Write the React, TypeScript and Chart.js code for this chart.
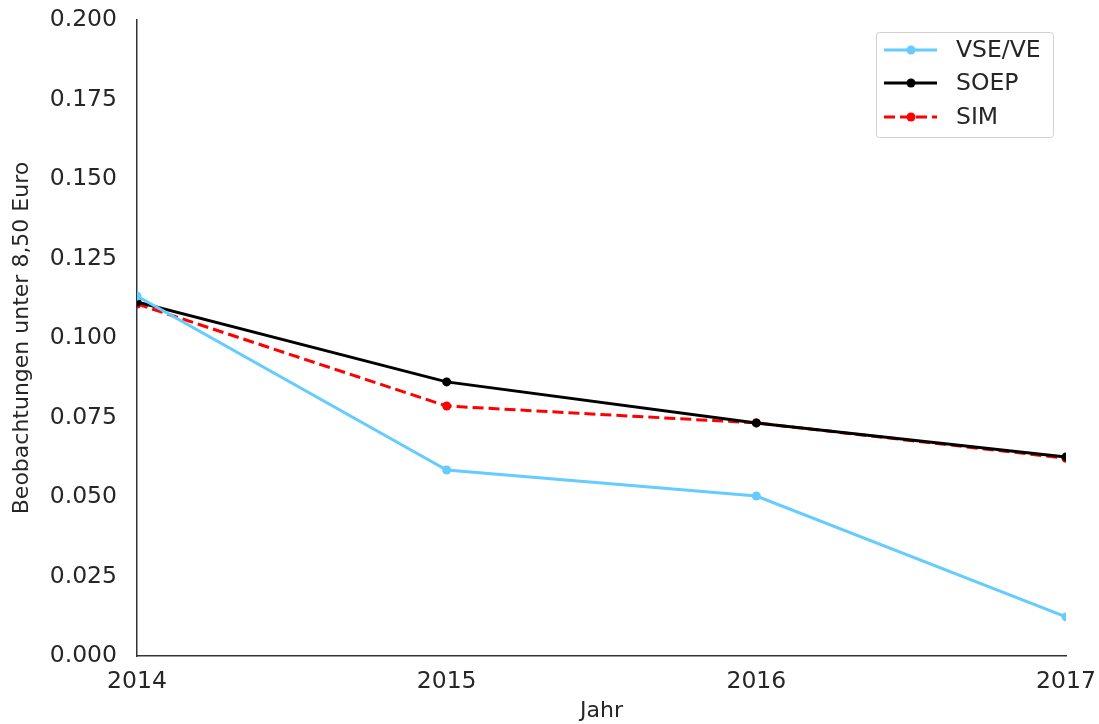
import React, { useEffect, useRef } from "react";
import { Chart, registerables } from "chart.js";

Chart.register(...registerables);

const years = ["2014", "2015", "2016", "2017"];
const vseVe = [0.1132, 0.0585, 0.0503, 0.0123];
const soep = [0.1113, 0.0862, 0.0733, 0.0626];
const sim = [0.1107, 0.0786, 0.0733, 0.0622];
const yTicks = [0, 0.025, 0.05, 0.075, 0.1, 0.125, 0.15, 0.175, 0.2];

const FONT = "'DejaVu Sans', sans-serif";
const TEXT = "#262626";

const legendPlugin = {
  id: "customLegend",
  afterDraw(chart: any) {
    const ctx = chart.ctx;
    const x0 = 876, y0 = 32, w = 177, h = 105;
    ctx.save();
    ctx.fillStyle = "rgba(255,255,255,0.8)";
    ctx.strokeStyle = "#d0d0d0";
    ctx.lineWidth = 1;
    ctx.beginPath();
    if (ctx.roundRect) ctx.roundRect(x0 + 0.5, y0 + 0.5, w, h, 3);
    else ctx.rect(x0 + 0.5, y0 + 0.5, w, h);
    ctx.fill();
    ctx.stroke();
    const rows = [50, 83, 117];
    chart.data.datasets.forEach((ds: any, i: number) => {
      const y = rows[i];
      ctx.strokeStyle = ds.borderColor;
      ctx.lineWidth = 3;
      ctx.setLineDash(ds.borderDash || []);
      ctx.beginPath();
      ctx.moveTo(884, y);
      ctx.lineTo(937, y);
      ctx.stroke();
      ctx.setLineDash([]);
      ctx.fillStyle = ds.borderColor;
      ctx.beginPath();
      ctx.arc(911, y, 4.5, 0, Math.PI * 2);
      ctx.fill();
      ctx.fillStyle = TEXT;
      ctx.font = `23.5px ${FONT}`;
      ctx.textBaseline = "middle";
      ctx.textAlign = "left";
      ctx.fillText(ds.label, 956, y + 1);
    });
    ctx.restore();
  },
};

export default function App() {
  const ref = useRef<HTMLCanvasElement>(null);
  useEffect(() => {
    if (!ref.current) return;
    const common = {
      borderWidth: 3,
      pointRadius: 4.5,
      pointHoverRadius: 4.5,
      pointBorderWidth: 0,
      tension: 0,
      clip: 0,
    };
    const chart = new Chart(ref.current, {
      type: "line",
      data: {
        labels: years,
        datasets: [
          { label: "VSE/VE", data: vseVe, borderColor: "#66ccff", backgroundColor: "#66ccff", ...common },
          { label: "SOEP", data: soep, borderColor: "#000000", backgroundColor: "#000000", ...common },
          {
            label: "SIM",
            data: sim,
            borderColor: "#ff0000",
            backgroundColor: "#ff0000",
            borderDash: [11, 5],
            ...common,
          },
        ],
      },
      options: {
        animation: false,
        responsive: false,
        layout: { padding: { left: 0, right: 33, top: 20, bottom: 0 } },
        plugins: { legend: { display: false }, tooltip: { enabled: false } },
        scales: {
          x: {
            type: "category",
            offset: false,
            grid: { display: false, drawTicks: false },
            border: { display: true, color: "#333", width: 1.5 },
            ticks: {
              color: TEXT,
              font: { family: FONT, size: 23.5 },
              padding: 12,
              maxRotation: 0,
              autoSkip: false,
            },
            title: {
              display: true,
              text: "Jahr",
              color: TEXT,
              font: { family: FONT, size: 22 },
              padding: { top: 0, bottom: 0 },
            },
            afterFit(scale: any) {
              scale.height = 68;
              scale.paddingLeft = 0;
              scale.paddingRight = 0;
            },
          },
          y: {
            type: "linear",
            min: 0,
            max: 0.2,
            grid: { display: false, drawTicks: false },
            border: { display: true, color: "#333", width: 1.5 },
            afterBuildTicks(scale: any) {
              scale.ticks = yTicks.map((v) => ({ value: v }));
            },
            ticks: {
              color: TEXT,
              font: { family: FONT, size: 23.5 },
              padding: 20,
              callback: (v: any) => Number(v).toFixed(3),
            },
            title: {
              display: true,
              text: "Beobachtungen unter 8,50 Euro",
              color: TEXT,
              font: { family: FONT, size: 22 },
              padding: { top: 9, bottom: 0 },
            },
            afterFit(scale: any) {
              scale.width = 137;
              scale.paddingTop = 0;
              scale.paddingBottom = 0;
            },
          },
        },
      },
      plugins: [legendPlugin],
    });
    return () => chart.destroy();
  }, []);
  return (
    <div style={{ position: "fixed", left: 0, top: 0, width: 1099, height: 724, background: "#fff" }}>
      <canvas ref={ref} width={1099} height={724} style={{ width: 1099, height: 724 }} />
    </div>
  );
}
